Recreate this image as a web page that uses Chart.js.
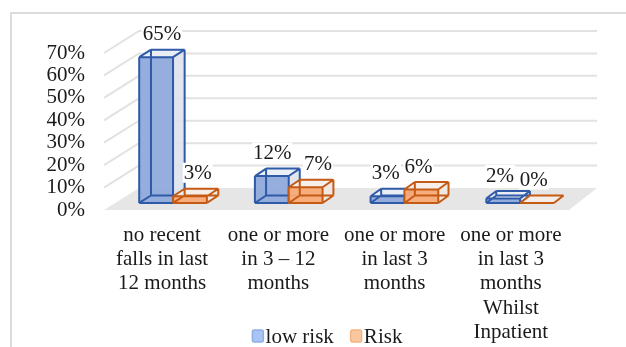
<!DOCTYPE html>
<html>
<head>
<meta charset="utf-8">
<script src="https://cdn.jsdelivr.net/npm/chart.js@4.4.1/dist/chart.umd.min.js"></script>
<style>
  body { margin: 0; background: #fff; }
  #frame { position: absolute; left: 10px; top: 12px; width: 700px; height: 400px; border: 2px solid #dcdcdc; }
  #wrap { position: absolute; left: 0; top: 0; width: 626px; height: 347px; }
</style>
</head>
<body>
<div id="frame"></div>
<div id="wrap"><canvas id="fallsChart"></canvas></div>
<script>
const categories = [
    ['no recent', 'falls in last', '12 months'],
    ['one or more', 'in 3 \u2013 12', 'months'],
    ['one or more', 'in last 3', 'months'],
    ['one or more', 'in last 3', 'months', 'Whilst', 'Inpatient']
];
const lowRisk = [65, 12, 3, 2];
const risk = [3, 7, 6, 0];
const yMax = 70;
const yStep = 10;

const serif = '"Liberation Serif", "Times New Roman", serif';
const fontPx = 21;
Chart.defaults.font.family = serif;
Chart.defaults.font.size = fontPx;
Chart.defaults.color = '#1a1a1a';

// oblique depth: floor runs back 22px, a bit less sideways on the right (perspective)
function depthDx(area, x) {
    return 35 - 7 * (x - area.left) / (area.right - area.left);
}
function proj(area, x, y, t) {
    return [x + t * depthDx(area, x), y - t * 22];
}

function poly(ctx, pts) {
    ctx.beginPath();
    ctx.moveTo(pts[0][0], pts[0][1]);
    for (let i = 1; i < pts.length; i++) ctx.lineTo(pts[i][0], pts[i][1]);
    ctx.closePath();
}

const walls = {
    id: 'walls',
    beforeDatasetsDraw(chart) {
        const ctx = chart.ctx;
        const a = chart.chartArea;
        const ys = chart.scales.y;
        ctx.save();
        // floor
        poly(ctx, [proj(a, a.left, a.bottom, 0), proj(a, a.right, a.bottom, 0),
                   proj(a, a.right, a.bottom, 1), proj(a, a.left, a.bottom, 1)]);
        ctx.fillStyle = '#e6e6e6';
        ctx.fill();
        // side wall + back wall gridlines
        ctx.strokeStyle = '#e2e2e2';
        ctx.lineWidth = 2;
        for (let v = yStep; v <= yMax; v += yStep) {
            const y = ys.getPixelForValue(v);
            const p1 = proj(a, a.left, y, 1);
            const p2 = proj(a, a.right, y, 1);
            ctx.beginPath();
            ctx.moveTo(a.left, y);
            ctx.lineTo(p1[0], p1[1]);
            ctx.lineTo(p2[0], p2[1]);
            ctx.stroke();
        }
        ctx.restore();
    }
};

const boxes3d = {
    id: 'boxes3d',
    afterDatasetsDraw(chart, args, opts) {
        const ctx = chart.ctx;
        const a = chart.chartArea;
        const metas = chart.data.datasets.map((ds, i) => chart.getDatasetMeta(i));
        const labels = [];
        ctx.save();
        ctx.lineJoin = 'round';
        for (let c = 0; c < categories.length; c++) {
            metas.forEach((meta, d) => {
                const bar = meta.data[c];
                const st = opts.styles[d];
                const x0 = bar.x - bar.width / 2, x1 = bar.x + bar.width / 2;
                const top = bar.y, base = bar.base;
                const t1 = opts.front, t2 = opts.back;
                const A = proj(a, x0, top, t1), B = proj(a, x1, top, t1);
                const C = proj(a, x1, base, t1), D = proj(a, x0, base, t1);
                const A2 = proj(a, x0, top, t2), B2 = proj(a, x1, top, t2);
                const C2 = proj(a, x1, base, t2), D2 = proj(a, x0, base, t2);
                const flat = Math.abs(base - top) < 0.5;

                if (!flat) {
                    poly(ctx, [B, B2, C2, C]);
                    ctx.fillStyle = st.side;
                    ctx.fill();
                }
                poly(ctx, [A, A2, B2, B]);
                ctx.fillStyle = st.top;
                ctx.fill();
                if (!flat) {
                    poly(ctx, [A, B, C, D]);
                    ctx.fillStyle = st.front;
                    ctx.fill();
                }

                ctx.strokeStyle = st.edge;
                ctx.lineWidth = 2;
                const edges = flat
                    ? [[A, B], [B, B2], [B2, A2], [A2, A]]
                    : [[A, B], [B, C], [C, D], [D, A],
                       [A2, B2], [B2, C2], [C2, D2], [D2, A2],
                       [A, A2], [B, B2], [C, C2], [D, D2]];
                ctx.beginPath();
                edges.forEach(([p, q]) => { ctx.moveTo(p[0], p[1]); ctx.lineTo(q[0], q[1]); });
                ctx.stroke();

                const value = chart.data.datasets[d].data[c];
                labels.push({
                    text: value + '%',
                    x: (A[0] + B2[0]) / 2 + opts.nudge[d][c],
                    y: A2[1] - 16
                });
            });
        }
        // value labels on a white ground
        ctx.font = fontPx + 'px ' + serif;
        ctx.textAlign = 'center';
        ctx.textBaseline = 'middle';
        labels.forEach(l => {
            const w = ctx.measureText(l.text).width;
            ctx.fillStyle = '#fff';
            ctx.fillRect(l.x - w / 2 - 1, l.y - 10, w + 2, 20);
            ctx.fillStyle = '#1a1a1a';
            ctx.fillText(l.text, l.x, l.y + 1);
        });
        ctx.restore();
    }
};

const legendBoxes = {
    id: 'legendBoxes',
    afterDraw(chart, args, opts) {
        const ctx = chart.ctx;
        ctx.save();
        ctx.font = fontPx + 'px ' + serif;
        ctx.textBaseline = 'middle';
        ctx.textAlign = 'left';
        const items = chart.data.datasets.map((ds, i) => ({ text: ds.label, w: ctx.measureText(ds.label).width, st: opts.items[i] }));
        const total = items.reduce((s, it) => s + 14 + it.w, 0) + opts.gap * (items.length - 1);
        let x = opts.cx - total / 2;
        items.forEach(it => {
            ctx.fillStyle = it.st.fill;
            ctx.strokeStyle = it.st.stroke;
            ctx.lineWidth = 1.5;
            ctx.beginPath();
            ctx.roundRect(x + 0.75, opts.cy - 6, 11, 12, 2);
            ctx.fill();
            ctx.stroke();
            ctx.fillStyle = '#1a1a1a';
            ctx.fillText(it.text, x + 14, opts.cy + 1);
            x += 14 + it.w + opts.gap;
        });
        ctx.restore();
    }
};

new Chart(document.getElementById('fallsChart'), {
    type: 'bar',
    data: {
        labels: categories,
        datasets: [
            { label: 'low risk', data: lowRisk, backgroundColor: 'rgba(0,0,0,0)', borderWidth: 0 },
            { label: 'Risk', data: risk, backgroundColor: 'rgba(0,0,0,0)', borderWidth: 0 }
        ]
    },
    options: {
        responsive: true,
        maintainAspectRatio: false,
        animation: false,
        layout: { padding: { left: 10, right: 57, top: 53, bottom: 0 } },
        datasets: { bar: { categoryPercentage: 0.585, barPercentage: 1 } },
        scales: {
            x: {
                grid: { display: false, drawTicks: false },
                border: { display: false },
                ticks: { padding: 13, maxRotation: 0, autoSkip: false, font: { lineHeight: 1.16 } },
                afterFit: s => { s.height = 137; }
            },
            y: {
                min: 0,
                max: yMax,
                grid: { display: false, drawTicks: false },
                border: { display: false },
                ticks: { stepSize: yStep, padding: 19, autoSkip: false, callback: v => v + '%' },
                afterFit: s => { s.width = 94; }
            }
        },
        plugins: {
            legend: { display: false },
            tooltip: { enabled: false },
            boxes3d: {
                front: 0.32,
                back: 0.66,
                nudge: [[0, -5, -7, -8], [2, 7, -8, -8]],
                styles: [
                    { front: 'rgba(143,170,220,0.95)', side: 'rgba(221,226,236,0.9)', top: 'rgba(233,237,245,0.9)', edge: '#2f5aa8' },
                    { front: 'rgba(248,170,118,0.95)', side: 'rgba(242,232,225,0.9)', top: 'rgba(246,238,232,0.9)', edge: '#c55a15' }
                ]
            },
            legendBoxes: {
                cx: 327,
                cy: 336,
                gap: 16,
                items: [
                    { fill: '#a8c4f2', stroke: '#8eaee6' },
                    { fill: '#fac89e', stroke: '#f5b483' }
                ]
            }
        }
    },
    plugins: [walls, boxes3d, legendBoxes]
});
</script>
</body>
</html>
